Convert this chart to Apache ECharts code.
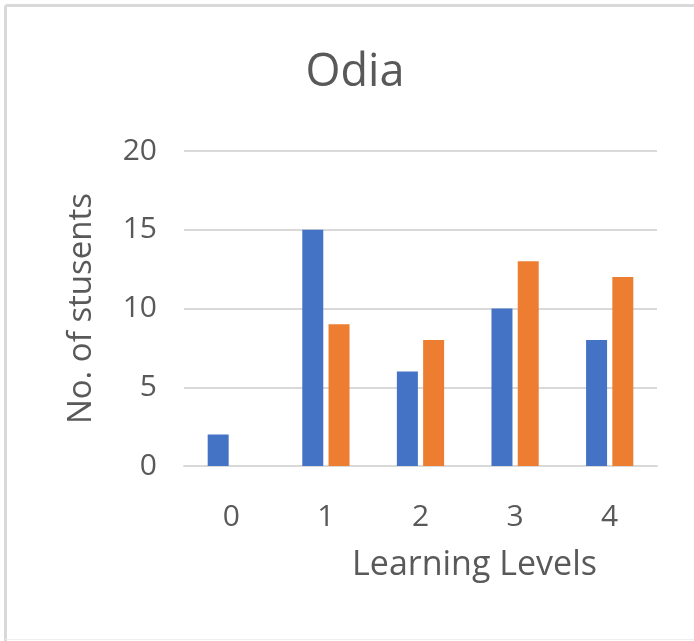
<!DOCTYPE html>
<html>
<head>
<meta charset="utf-8">
<script src="https://cdn.jsdelivr.net/npm/echarts@6/dist/echarts.min.js"></script>
<style>
html,body{margin:0;padding:0;background:#fff;}
#chart{width:694px;height:641px;}
</style>
</head>
<body>
<div id="chart"></div>
<script>
const titleText = 'Odia';
const xAxisName = 'Learning Levels';
const yAxisName = 'No. of stusents';
const categories = ['0', '1', '2', '3', '4'];
const seriesA = [2, 15, 6, 10, 8];
const seriesB = [0, 9, 8, 13, 12];
const yMin = 0, yMax = 20, yInterval = 5;

const FONT = '"Open Sans", sans-serif';
const TXT = '#595959';
const GRID = '#d9d9d9';

const chart = echarts.init(document.getElementById('chart'), null, {renderer: 'canvas'});
chart.setOption({
  animation: false,
  backgroundColor: '#fff',
  title: {
    text: titleText,
    left: 350,
    top: 46,
    textAlign: 'center',
    textStyle: {fontFamily: FONT, fontSize: 45, fontWeight: 'normal', color: TXT}
  },
  graphic: [
    {type: 'line', shape: {x1: 5.5, y1: 5.5, x2: 694, y2: 5.5}, style: {stroke: '#d9d9d9', lineWidth: 3}, silent: true, z: -10},
    {type: 'line', shape: {x1: 5.5, y1: 5.5, x2: 5.5, y2: 641}, style: {stroke: '#d9d9d9', lineWidth: 3}, silent: true, z: -10},
    {type: 'line', shape: {x1: 5.5, y1: 639.5, x2: 694, y2: 639.5}, style: {stroke: '#eeeeee', lineWidth: 1}, silent: true, z: -10}
  ],
  grid: {left: 184, right: 37, top: 151, bottom: 175, containLabel: false},
  xAxis: {
    type: 'category',
    data: categories,
    name: xAxisName,
    nameLocation: 'middle',
    nameGap: 82,
    nameTextStyle: {fontFamily: FONT, fontSize: 34, color: TXT, padding: [0, 0, 0, 108]},
    axisLine: {show: true, lineStyle: {color: GRID, width: 2}},
    axisTick: {show: false},
    axisLabel: {fontFamily: FONT, fontSize: 30, color: TXT, margin: 36}
  },
  yAxis: {
    type: 'value',
    min: yMin,
    max: yMax,
    interval: yInterval,
    name: yAxisName,
    nameLocation: 'middle',
    nameGap: 86,
    nameTextStyle: {fontFamily: FONT, fontSize: 33, color: TXT},
    axisLine: {show: false},
    axisTick: {show: false},
    axisLabel: {fontFamily: FONT, fontSize: 30, color: TXT, margin: 27},
    splitLine: {lineStyle: {color: GRID, width: 2}}
  },
  series: [
    {type: 'bar', data: seriesA, barWidth: 21, barGap: '25%', itemStyle: {color: '#4472C4'}},
    {type: 'bar', data: seriesB, barWidth: 21, barGap: '25%', itemStyle: {color: '#ED7D31'}}
  ]
});
</script>
</body>
</html>
